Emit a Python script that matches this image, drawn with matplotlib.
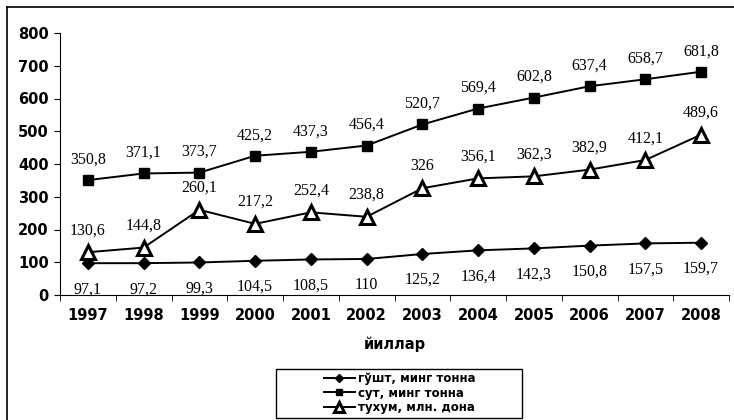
import matplotlib
matplotlib.use("Agg")
import matplotlib.pyplot as plt
from matplotlib.patches import Rectangle
from matplotlib.lines import Line2D

years = ["1997", "1998", "1999", "2000", "2001", "2002", "2003", "2004", "2005", "2006", "2007", "2008"]
meat = [97.1, 97.2, 99.3, 104.5, 108.5, 110, 125.2, 136.4, 142.3, 150.8, 157.5, 159.7]
milk = [350.8, 371.1, 373.7, 425.2, 437.3, 456.4, 520.7, 569.4, 602.8, 637.4, 658.7, 681.8]
eggs = [130.6, 144.8, 260.1, 217.2, 252.4, 238.8, 326, 356.1, 362.3, 382.9, 412.1, 489.6]
series_names = ["гўшт, минг тонна", "сут, минг тонна", "тухум, млн. дона"]


def fmt(v):
    s = f"{v:g}"
    return s.replace(".", ",")


fig = plt.figure(figsize=(7.34, 4.2), dpi=100)
ax = fig.add_axes([60 / 734, 1 - 295 / 420, 669 / 734, 262 / 420])

x = list(range(len(years)))
l1, = ax.plot(x, meat, color="black", lw=1.4, marker="D", ms=6, mfc="black", mec="black")
l2, = ax.plot(x, milk, color="black", lw=1.4, marker="s", ms=6.5, mfc="black", mec="black")
l3, = ax.plot(x, eggs, color="black", lw=1.4, marker="^", ms=10, mfc="white", mec="black", mew=2.2)

lab_font = dict(family="Liberation Serif", fontsize=11.5, ha="center")
for i in x:
    ax.annotate(fmt(meat[i]), (i, meat[i]), xytext=(0, -13), textcoords="offset points", va="top", **lab_font)
    ax.annotate(fmt(milk[i]), (i, milk[i]), xytext=(0, 9), textcoords="offset points", va="bottom", **lab_font)
    ax.annotate(fmt(eggs[i]), (i, eggs[i]), xytext=(0, 10), textcoords="offset points", va="bottom", **lab_font)

ax.set_xlim(-0.5, len(years) - 0.5)
ax.set_ylim(0, 800)
ax.set_yticks(range(0, 801, 100))
ax.set_xticks(x)
ax.set_xticklabels(years)
ax.set_xticks([i - 0.5 for i in range(len(years) + 1)], minor=True)
ax.tick_params(axis="x", which="major", length=0, pad=9)
ax.tick_params(axis="x", which="minor", length=4, direction="out")
ax.tick_params(axis="y", length=4, direction="out", pad=4)
for lbl in ax.get_xticklabels() + ax.get_yticklabels():
    lbl.set_fontweight("bold")
    lbl.set_fontsize(10.5)
for s in ["top", "right"]:
    ax.spines[s].set_visible(False)
ax.set_xlabel("йиллар", fontweight="bold", fontsize=10.5, labelpad=10)

# legend text without frame, box drawn separately (wide, as in the scan)
fig.legend([l1, l2, l3], series_names, loc="center", bbox_to_anchor=(400 / 734, 1 - 393 / 420),
           frameon=False, prop={"weight": "bold", "size": 8.5}, handlelength=2.6, borderpad=0,
           labelspacing=0.15, handletextpad=0.3, markerscale=0.7, borderaxespad=0)
fig.patches.append(Rectangle((276 / 734, 1 - 418 / 420), 246 / 734, 49 / 420, transform=fig.transFigure,
                             fill=False, edgecolor="black", lw=1.0))

# scan frame: only top and left edges visible
fig.add_artist(Line2D([7 / 734, 1], [1 - 7 / 420, 1 - 7 / 420], transform=fig.transFigure, color="black", lw=1.2))
fig.add_artist(Line2D([7 / 734, 7 / 734], [0, 1 - 7 / 420], transform=fig.transFigure, color="black", lw=1.2))

fig.savefig("out.png", dpi=100)
